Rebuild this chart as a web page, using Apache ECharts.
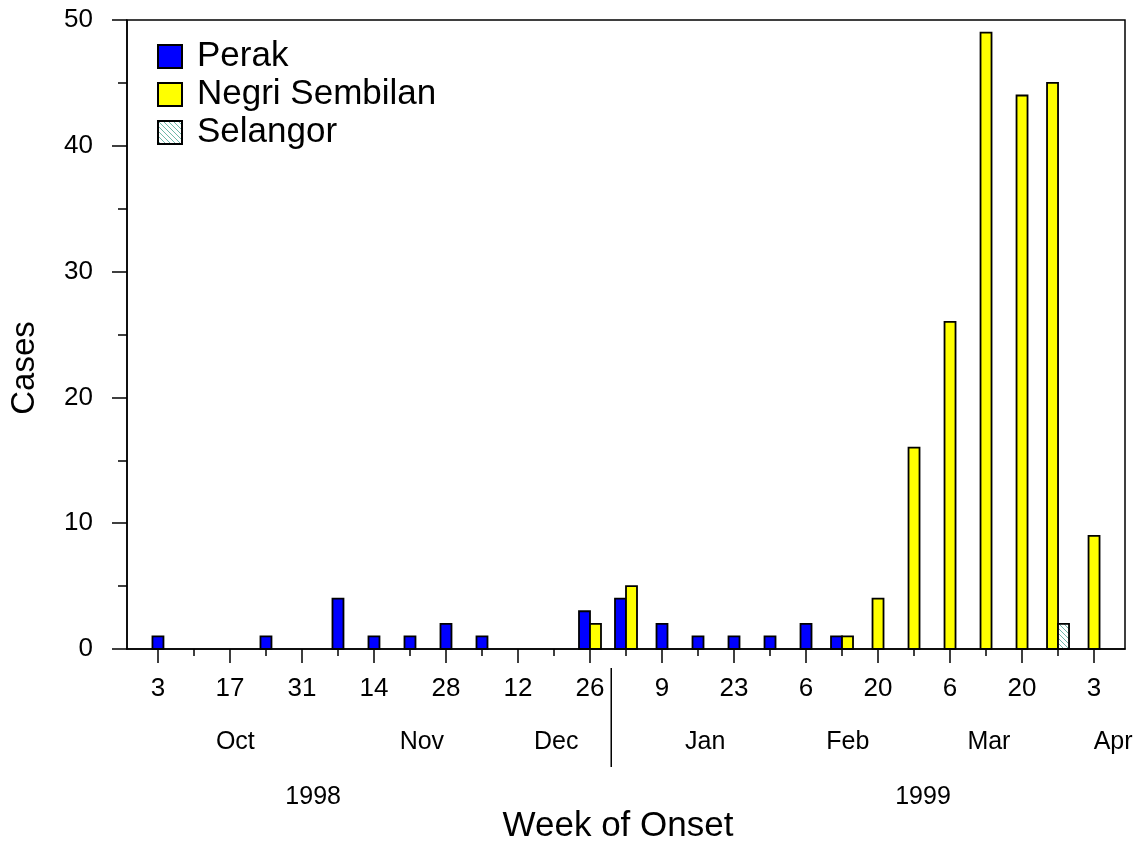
<!DOCTYPE html>
<html>
<head>
<meta charset="utf-8">
<title>Week of Onset</title>
<style>
  html, body { margin: 0; height: 100%; background: #fff; }
  #main { width: 1138px; height: 842px; }
</style>
</head>
<body>
<div id="main"></div>
<script src="https://cdn.jsdelivr.net/npm/echarts@6/dist/echarts.min.js"></script>
<script>
// weekly counts, week 0 = Oct 3 1998 ... week 26 = Apr 3 1999
var weekDays = ['3', '10', '17', '24', '31', '7', '14', '21', '28', '5', '12', '19', '26',
                '2', '9', '16', '23', '30', '6', '13', '20', '27', '6', '13', '20', '27', '3'];
var perak    = [1, 0, 0, 1, 0, 4, 1, 1, 2, 1, 0, 0, 3, 4, 2, 1, 1, 1, 2, 1, 0, 0, 0, 0, 0, 0, 0];
var negri    = [0, 0, 0, 0, 0, 0, 0, 0, 0, 0, 0, 0, 2, 5, 0, 0, 0, 0, 0, 1, 4, 16, 26, 49, 44, 45, 9];
var selangor = [0, 0, 0, 0, 0, 0, 0, 0, 0, 0, 0, 0, 0, 0, 0, 0, 0, 0, 0, 0, 0, 0, 0, 0, 0, 2, 0];

var months = ['Oct', 'Nov', 'Dec', 'Jan', 'Feb', 'Mar', 'Apr'];
var monthPos = [2.15, 7.33, 11.06, 15.2, 19.16, 23.08, 26.53];
var years = ['1998', '1999'];
var yearPos = [4.31, 21.25];
var yearSplit = 12.59;

var stateNames = ['Perak', 'Negri Sembilan', 'Selangor'];
var stateData = [perak, negri, selangor];

var FONT = 'Liberation Sans, Arial, Helvetica, sans-serif';

// hatch pattern for Selangor
var hatch = document.createElement('canvas');
hatch.width = 5; hatch.height = 5;
(function () {
  var c = hatch.getContext('2d');
  c.fillStyle = '#ffffff';
  c.fillRect(0, 0, 5, 5);
  c.strokeStyle = '#6fb8a8';
  c.lineWidth = 1;
  c.beginPath();
  c.moveTo(0, 0); c.lineTo(5, 5);
  c.moveTo(-1, 4); c.lineTo(1, 6);
  c.moveTo(4, -1); c.lineTo(6, 1);
  c.stroke();
})();
var colors = ['#0000ff', '#ffff00', { image: hatch, repeat: 'repeat' }];

var evenWeeks = [], oddWeeks = [];
for (var i = 0; i < weekDays.length; i++) {
  if (i % 2 === 0) evenWeeks.push(i); else oddWeeks.push(i);
}

function barsFor(k) {
  return function (params, api) {
    var week = api.value(0);
    var present = [];
    for (var s = 0; s < stateData.length; s++) {
      if (stateData[s][week] > 0) present.push(s);
    }
    var n = present.length, pos = present.indexOf(k);
    var w = 11;
    var base = api.coord([week, 0]);
    var top = api.coord([week, api.value(1)]);
    return {
      type: 'rect',
      shape: { x: base[0] - n * w / 2 + pos * w, y: top[1], width: w, height: base[1] - top[1] },
      style: api.style()
    };
  };
}

var series = stateNames.map(function (name, k) {
  var pts = [];
  stateData[k].forEach(function (v, wk) { if (v > 0) pts.push([wk, v]); });
  return {
    name: name,
    type: 'custom',
    renderItem: barsFor(k),
    encode: { x: 0, y: 1 },
    itemStyle: { color: colors[k], borderColor: '#000', borderWidth: 1.8 },
    data: pts
  };
});

var chart = echarts.init(document.getElementById('main'));
var xmin = -0.86, xmax = 26.86;
chart.setOption({
  animation: false,
  textStyle: { fontFamily: FONT, color: '#000' },
  grid: { left: 127, right: 13, top: 20, bottom: 193, show: true, borderColor: '#000', borderWidth: 1.5 },
  legend: {
    orient: 'vertical', left: 157, top: 39, icon: 'rect', padding: 0,
    itemWidth: 24, itemHeight: 23, itemGap: 3,
    textStyle: { fontSize: 35, lineHeight: 35, color: '#000', fontFamily: FONT, padding: [0, 0, 0, 10] },
    data: stateNames
  },
  xAxis: [{
    type: 'value', min: xmin, max: xmax, position: 'bottom',
    splitLine: { show: false },
    axisLine: { onZero: false, lineStyle: { color: '#000', width: 1.5 } },
    axisTick: { customValues: evenWeeks, length: 14, lineStyle: { color: '#000', width: 1.5 } },
    axisLabel: {
      customValues: evenWeeks, margin: 27, fontSize: 26, color: '#000', fontFamily: FONT,
      hideOverlap: false,
      formatter: function (v) { return weekDays[Math.round(v)]; }
    }
  }, {
    type: 'value', min: xmin, max: xmax, position: 'bottom',
    splitLine: { show: false },
    axisLine: { show: false, onZero: false },
    axisTick: { customValues: oddWeeks, length: 7, lineStyle: { color: '#000', width: 1.5 } },
    axisLabel: { show: false }
  }, {
    type: 'value', min: xmin, max: xmax, position: 'bottom', offset: 73,
    splitLine: { show: false },
    axisLine: { show: false, onZero: false },
    axisTick: { show: false },
    axisLabel: {
      customValues: monthPos, margin: 8, fontSize: 25, color: '#000', fontFamily: FONT,
      hideOverlap: false,
      formatter: function (v) { return months[monthPos.indexOf(v)]; }
    }
  }, {
    type: 'value', min: xmin, max: xmax, position: 'bottom', offset: 128,
    splitLine: { show: false },
    axisLine: { show: false, onZero: false },
    axisTick: { show: false },
    axisLabel: {
      customValues: yearPos, margin: 8, fontSize: 25, color: '#000', fontFamily: FONT,
      hideOverlap: false,
      formatter: function (v) { return years[yearPos.indexOf(v)]; }
    }
  }],
  yAxis: {
    type: 'value', min: 0, max: 50, interval: 10,
    splitLine: { show: false },
    axisLine: { show: true, onZero: false, lineStyle: { color: '#000', width: 1.5 } },
    axisTick: { show: true, length: 15, lineStyle: { color: '#000', width: 1.5 } },
    minorTick: { show: true, splitNumber: 2, length: 9, lineStyle: { color: '#000', width: 1.5 } },
    axisLabel: { margin: 34, fontSize: 26, color: '#000', fontFamily: FONT }
  },
  series: series
});

// vertical divider between the two years, plus axis titles
var sx = chart.convertToPixel({ xAxisIndex: 0 }, yearSplit);
chart.setOption({
  graphic: [{
    type: 'line', shape: { x1: sx, y1: 668, x2: sx, y2: 767 },
    style: { stroke: '#000', lineWidth: 1.5 }
  }, {
    type: 'text', x: 618, y: 826,
    style: { text: 'Week of Onset', font: '35px ' + FONT, fill: '#000', align: 'center', verticalAlign: 'middle' }
  }, {
    type: 'text', x: 25, y: 368, rotation: Math.PI / 2,
    style: { text: 'Cases', font: '33px ' + FONT, fill: '#000', align: 'center', verticalAlign: 'middle' }
  }]
});
</script>
</body>
</html>
